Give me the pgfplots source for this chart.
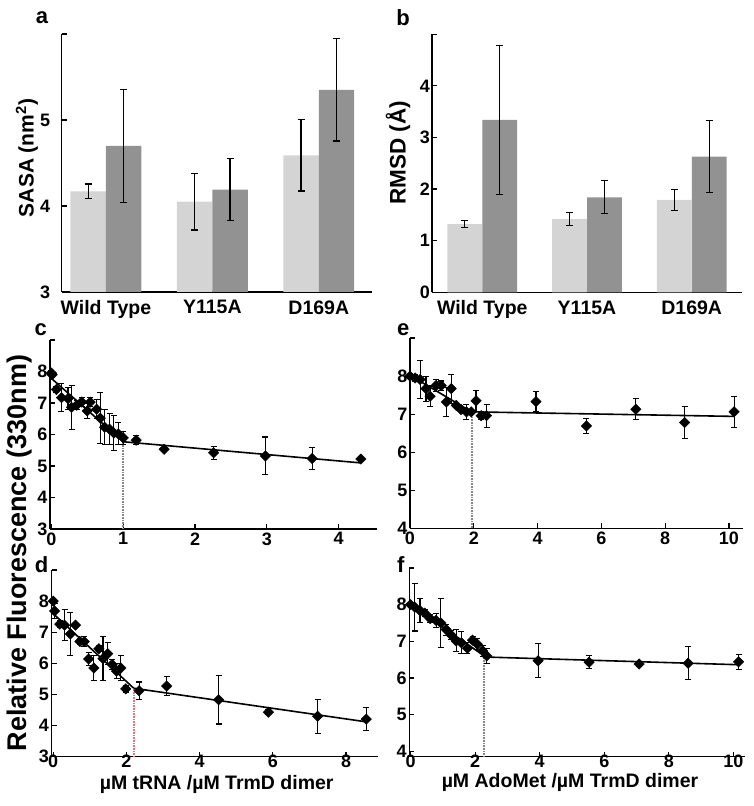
\documentclass[border=0pt]{standalone}
\usepackage{fontspec}
\setmainfont{Liberation Sans}
\usepackage{pgfplots}
\pgfplotsset{compat=1.18}
\newcommand{\fs}[1]{\fontsize{#1}{#1}\selectfont}
\definecolor{lightbar}{RGB}{212,212,212}
\definecolor{darkbar}{RGB}{146,146,146}
\definecolor{dotgray}{RGB}{135,135,135}
\definecolor{dotred}{RGB}{232,110,120}
\pgfplotsset{
 base/.style={scale only axis, anchor=south west, axis lines*=left,
   axis line style={line width=1.2pt,-}, tick align=inside, major tick length=5pt,
   every tick/.style={black, line width=1.2pt},
   tick label style={font=\bfseries\fs{18}, black},
   /pgf/number format/assume math mode=true},
 barax/.style={base, ybar, bar width=0.333, xtick={0,1,2},
   xticklabels={Wild Type,Y115A,D169A},
   x tick label style={font=\bfseries\fs{19.5}},
   x tick style={draw=none}},
 scat/.style={base, clip=false, yticklabel style={inner sep=1pt, xshift=-1.5pt}},
 dat/.style={only marks, mark=square*, mark size=3.7pt,
   mark options={rotate=45, draw=black, fill=black},
   error bars/y dir=both, error bars/y explicit,
   error bars/error mark=-,
   error bars/error bar style={line width=1.1pt, black},
   error bars/error mark options={rotate=90, line width=1.1pt, mark size=3pt, black}},
 bardat/.style={draw=none, bar shift=0,
   error bars/y dir=both, error bars/y explicit,
   error bars/error mark=-,
   error bars/error bar style={line width=1.2pt, black},
   error bars/error mark options={rotate=90, line width=1.2pt, mark size=3.5pt, black}},
 fit/.style={black, line width=1.6pt, no marks},
 vdot/.style={line width=1.9pt, dash pattern=on 0.9pt off 0.7pt},
}
\begin{document}
\begin{tikzpicture}
\path[use as bounding box] (0pt,0pt) rectangle (754pt,806pt);

% ---------------- panel a
\begin{axis}[barax, at={(61.7pt,514pt)}, width=310.3pt, height=258pt,
  xmin=-0.415, xmax=2.5, ymin=3, ymax=6, ytick={3,4,5,6}, yticklabels={3,4,5,},
  yticklabel style={xshift=-8pt}]
\addplot[fill=lightbar, bardat] coordinates {
 (-0.1667,4.17) +- (0,0.085)
 (0.8333,4.05) +- (0,0.33)
 (1.8333,4.59) +- (0,0.415)};
\addplot[fill=darkbar, bardat] coordinates {
 (0.1667,4.70) +- (0,0.655)
 (1.1667,4.19) +- (0,0.36)
 (2.1667,5.35) +- (0,0.595)};
\end{axis}

% ---------------- panel b
\begin{axis}[barax, at={(432pt,513.7pt)}, width=310pt, height=258pt,
  xmin=-0.48, xmax=2.48, ymin=0, ymax=5, ytick={0,1,2,3,4,5}, yticklabels={0,1,2,3,4,},
  yticklabel style={inner sep=2pt}]
\addplot[fill=lightbar, bardat] coordinates {
 (-0.1667,1.32) +- (0,0.065)
 (0.8333,1.42) +- (0,0.12)
 (1.8333,1.79) +- (0,0.20)};
\addplot[fill=darkbar, bardat] coordinates {
 (0.1667,3.34) +- (0,1.45)
 (1.1667,1.84) +- (0,0.32)
 (2.1667,2.63) +- (0,0.70)};
\end{axis}

% ---------------- panel c
\begin{axis}[scat, at={(50pt,277pt)}, width=326.7pt, height=189pt,
  xmin=-0.02, xmax=4.53, ymin=3, ymax=9, xtick={0,1,2,3,4},
  ytick={3,4,5,6,7,8,9}, yticklabels={3,4,5,6,7,8,}]
\addplot[dotgray, vdot] coordinates {(1.0,3) (1.0,5.77)};
\addplot[fit] coordinates {(0,7.78) (1.0,5.77)};
\addplot[fit] coordinates {(1.0,5.77) (4.3,5.1)};
\addplot[dat] coordinates {
 (0.00,7.95) +- (0,0.08)
 (0.01,7.90) +- (0,0.10)
 (0.07,7.43) +- (0,0.10)
 (0.14,7.17) +- (0,0.45)
 (0.23,7.14) +- (0,0.35)
 (0.28,6.86) +- (0,0.70)
 (0.35,6.93) +- (0,0.15)
 (0.42,7.03) +- (0,0.15)
 (0.50,6.75) +- (0,0.25)
 (0.54,7.03) +- (0,0.15)
 (0.63,6.80) +- (0,0.30)
 (0.68,6.52) +- (0,0.80)
 (0.74,6.23) +- (0,0.55)
 (0.81,6.17) +- (0,0.50)
 (0.87,6.05) +- (0,0.55)
 (0.93,6.02) +- (0,0.35)
 (1.00,5.89) +- (0,0.20)
 (1.18,5.82) +- (0,0.15)
 (1.57,5.53) +- (0,0.05)
 (2.26,5.42) +- (0,0.20)
 (2.98,5.32) +- (0,0.60)
 (3.63,5.24) +- (0,0.35)
 (4.31,5.22) +- (0,0.03)};
\end{axis}

% ---------------- panel e
\begin{axis}[scat, at={(410pt,277.7pt)}, width=332.7pt, height=190.3pt,
  xmin=0, xmax=10.43, ymin=4, ymax=9, xtick={0,2,4,6,8,10},
  ytick={4,5,6,7,8,9}, yticklabels={4,5,6,7,8,}]
\addplot[dotgray, vdot] coordinates {(1.93,4) (1.93,7.06)};
\addplot[fit] coordinates {(0,8.02) (1.93,7.06)};
\addplot[fit] coordinates {(1.93,7.06) (10.16,6.94)};
\addplot[dat] coordinates {
 (0.00,8.00) +- (0,0.03)
 (0.16,7.95) +- (0,0.10)
 (0.32,7.91) +- (0,0.50)
 (0.50,7.67) +- (0,0.33)
 (0.63,7.47) +- (0,0.27)
 (0.82,7.75) +- (0,0.15)
 (0.98,7.75) +- (0,0.12)
 (1.14,7.32) +- (0,0.38)
 (1.29,7.67) +- (0,0.38)
 (1.45,7.23) +- (0,0.05)
 (1.60,7.12) +- (0,0.05)
 (1.77,7.06) +- (0,0.20)
 (1.92,7.06) +- (0,0.05)
 (2.07,7.35) +- (0,0.28)
 (2.23,6.96) +- (0,0.10)
 (2.40,6.96) +- (0,0.30)
 (3.95,7.33) +- (0,0.27)
 (5.53,6.69) +- (0,0.20)
 (7.08,7.13) +- (0,0.28)
 (8.61,6.78) +- (0,0.42)
 (10.16,7.06) +- (0,0.40)};
\end{axis}

% ---------------- panel d
\begin{axis}[scat, at={(51.7pt,49.3pt)}, width=326.6pt, height=186.7pt,
  xmin=-0.04, xmax=8.88, ymin=3, ymax=9, xtick={0,2,4,6,8},
  ytick={3,4,5,6,7,8,9}, yticklabels={3,4,5,6,7,8,},
  xticklabel style={inner sep=0pt, yshift=2pt}]
\addplot[dotred, vdot] coordinates {(2.2,3) (2.2,5.2)};
\addplot[fit] coordinates {(0,7.6) (2.2,5.2)};
\addplot[fit] coordinates {(2.2,5.2) (8.55,4.12)};
\addplot[dat] coordinates {
 (0.00,8.00) +- (0,0.05)
 (0.04,7.68) +- (0,0.25)
 (0.18,7.26) +- (0,0.10)
 (0.31,7.23) +- (0,0.50)
 (0.47,6.94) +- (0,0.70)
 (0.61,7.23) +- (0,0.05)
 (0.73,6.70) +- (0,0.10)
 (0.85,6.70) +- (0,0.15)
 (0.97,6.14) +- (0,0.20)
 (1.11,5.85) +- (0,0.40)
 (1.25,6.47) +- (0,0.10)
 (1.36,6.15) +- (0,0.70)
 (1.49,6.31) +- (0,0.35)
 (1.61,5.96) +- (0,0.15)
 (1.73,5.75) +- (0,0.25)
 (1.85,5.85) +- (0,0.40)
 (1.98,5.18) +- (0,0.10)
 (2.35,5.12) +- (0,0.28)
 (3.10,5.27) +- (0,0.30)
 (4.52,4.83) +- (0,0.78)
 (5.88,4.43) +- (0,0.08)
 (7.22,4.30) +- (0,0.55)
 (8.55,4.21) +- (0,0.38)};
\end{axis}

% ---------------- panel f
\begin{axis}[scat, at={(409.3pt,49.3pt)}, width=335.7pt, height=188.7pt,
  xmin=-0.04, xmax=10.36, ymin=3.85, ymax=9, xtick={0,2,4,6,8,10},
  ytick={4,5,6,7,8,9}, yticklabels={4,5,6,7,8,},
  xticklabel style={inner sep=0pt, yshift=2pt}]
\addplot[dotgray, vdot] coordinates {(2.27,3.85) (2.27,6.57)};
\addplot[fit] coordinates {(0,8.0) (2.33,6.57)};
\addplot[fit] coordinates {(2.33,6.57) (10.16,6.36)};
\addplot[dat] coordinates {
 (0.00,8.00) +- (0,0.05)
 (0.13,7.93) +- (0,0.65)
 (0.29,7.84) +- (0,0.33)
 (0.44,7.77) +- (0,0.10)
 (0.61,7.62) +- (0,0.10)
 (0.79,7.57) +- (0,0.20)
 (0.94,7.50) +- (0,0.66)
 (1.10,7.32) +- (0,0.15)
 (1.26,7.17) +- (0,0.12)
 (1.41,7.01) +- (0,0.30)
 (1.57,6.96) +- (0,0.30)
 (1.76,6.81) +- (0,0.15)
 (1.92,7.03) +- (0,0.10)
 (2.07,6.92) +- (0,0.15)
 (2.23,6.74) +- (0,0.15)
 (2.36,6.60) +- (0,0.20)
 (3.95,6.47) +- (0,0.47)
 (5.53,6.43) +- (0,0.18)
 (7.08,6.38) +- (0,0.06)
 (8.60,6.40) +- (0,0.45)
 (10.16,6.44) +- (0,0.20)};
\end{axis}

% ---------------- labels
\node[font=\bfseries\fs{22}] at (42pt,788pt) {a};
\node[font=\bfseries\fs{22}] at (403pt,788pt) {b};
\node[font=\bfseries\fs{22}] at (40.7pt,476.7pt) {c};
\node[font=\bfseries\fs{22}] at (403.3pt,476.7pt) {e};
\node[font=\bfseries\fs{22}] at (41.7pt,241pt) {d};
\node[font=\bfseries\fs{22}] at (400.7pt,241pt) {f};
\node[font=\bfseries\fs{21}, rotate=90] at (27pt,648pt) {SASA (nm\textsuperscript{2})};
\node[font=\bfseries\fs{22.5}, rotate=90] at (398pt,653pt) {RMSD (Å)};
\node[font=\bfseries\fs{27}, rotate=90] at (20pt,253pt) {Relative Fluorescence (330nm)};
\node[font=\bfseries\fs{19.5}, inner sep=0pt] at (216.7pt,22pt) {µM tRNA /µM TrmD dimer};
\node[font=\bfseries\fs{19.5}, inner sep=0pt] at (570pt,24pt) {µM AdoMet /µM TrmD dimer};
\end{tikzpicture}
\end{document}
